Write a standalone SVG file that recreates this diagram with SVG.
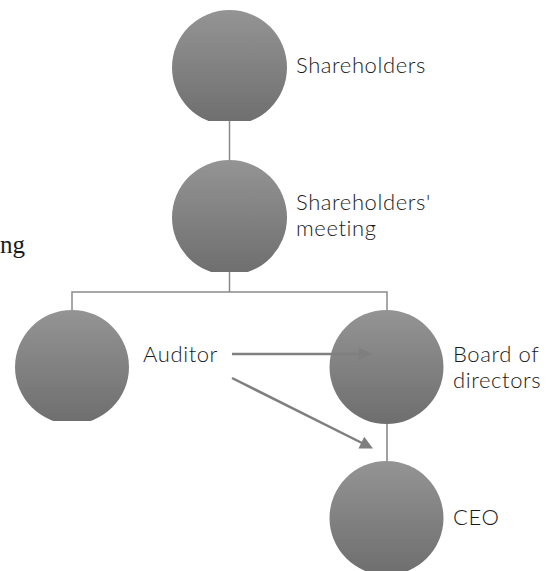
<svg xmlns="http://www.w3.org/2000/svg" width="553" height="571" viewBox="0 0 553 571">
  <style>
    .node { fill: url(#g); }
    .lbl { font-family: Lato, "Open Sans", "Liberation Sans", sans-serif; font-size: 22px; font-weight: 300; letter-spacing: 0.6px; fill: #1a1a1a; }
    .serif { font-family: "Liberation Serif", "Times New Roman", serif; font-size: 25px; fill: #1a1a1a; }
    .tree { stroke: #8a8a8a; stroke-width: 1.5; fill: none; }
    .link { stroke: #a0a0a0; stroke-width: 2; fill: none; }
    .arrow { stroke: #7f7f7f; stroke-width: 2.5; fill: none; marker-end: url(#ah); }
  </style>
  <defs>
    <linearGradient id="g" x1="0" y1="0" x2="0" y2="1">
      <stop offset="0" stop-color="#949494"/>
      <stop offset="1" stop-color="#6e6e6e"/>
    </linearGradient>
    <marker id="ah" viewBox="0 0 10 10" markerUnits="userSpaceOnUse" markerWidth="15" markerHeight="13" refX="4" refY="5" orient="auto">
      <path d="M0,0 L10,5 L0,10 z" fill="#7f7f7f"/>
    </marker>
    <clipPath id="c1"><rect x="0" y="0" width="553" height="121"/></clipPath>
    <clipPath id="c2"><rect x="0" y="140" width="553" height="132"/></clipPath>
    <clipPath id="c3"><rect x="0" y="300" width="553" height="121"/></clipPath>
  </defs>

  <text class="serif" x="0" y="253">ng</text>

  <g id="connectors">
    <line class="tree" x1="229.5" y1="121" x2="229.5" y2="160"/>
    <polyline class="tree" points="229.5,272 229.5,292"/>
    <polyline class="tree" points="72,310 72,292 387,292 387,310"/>
    <line class="link" x1="387" y1="424" x2="387" y2="461"/>
  </g>

  <g id="shareholders">
    <circle class="node" cx="229.5" cy="67.5" r="57.5" clip-path="url(#c1)"/>
    <text class="lbl" x="296" y="73">Shareholders</text>
  </g>

  <g id="meeting">
    <circle class="node" cx="229.5" cy="217.5" r="57.5" clip-path="url(#c2)"/>
    <text class="lbl" x="296" y="210">Shareholders'</text>
    <text class="lbl" x="296" y="236">meeting</text>
  </g>

  <g id="auditor">
    <circle class="node" cx="72" cy="367" r="57" clip-path="url(#c3)"/>
    <text class="lbl" x="143" y="362">Auditor</text>
  </g>

  <g id="board">
    <circle class="node" cx="386.5" cy="367" r="57"/>
    <text class="lbl" x="453" y="362">Board of</text>
    <text class="lbl" x="453" y="388">directors</text>
  </g>

  <g id="ceo">
    <circle class="node" cx="386.5" cy="518" r="57"/>
    <text class="lbl" x="453" y="525">CEO</text>
  </g>

  <g id="arrows">
    <line class="arrow" x1="232" y1="354" x2="364" y2="354"/>
    <line class="arrow" x1="232" y1="378" x2="366" y2="445"/>
  </g>
</svg>
